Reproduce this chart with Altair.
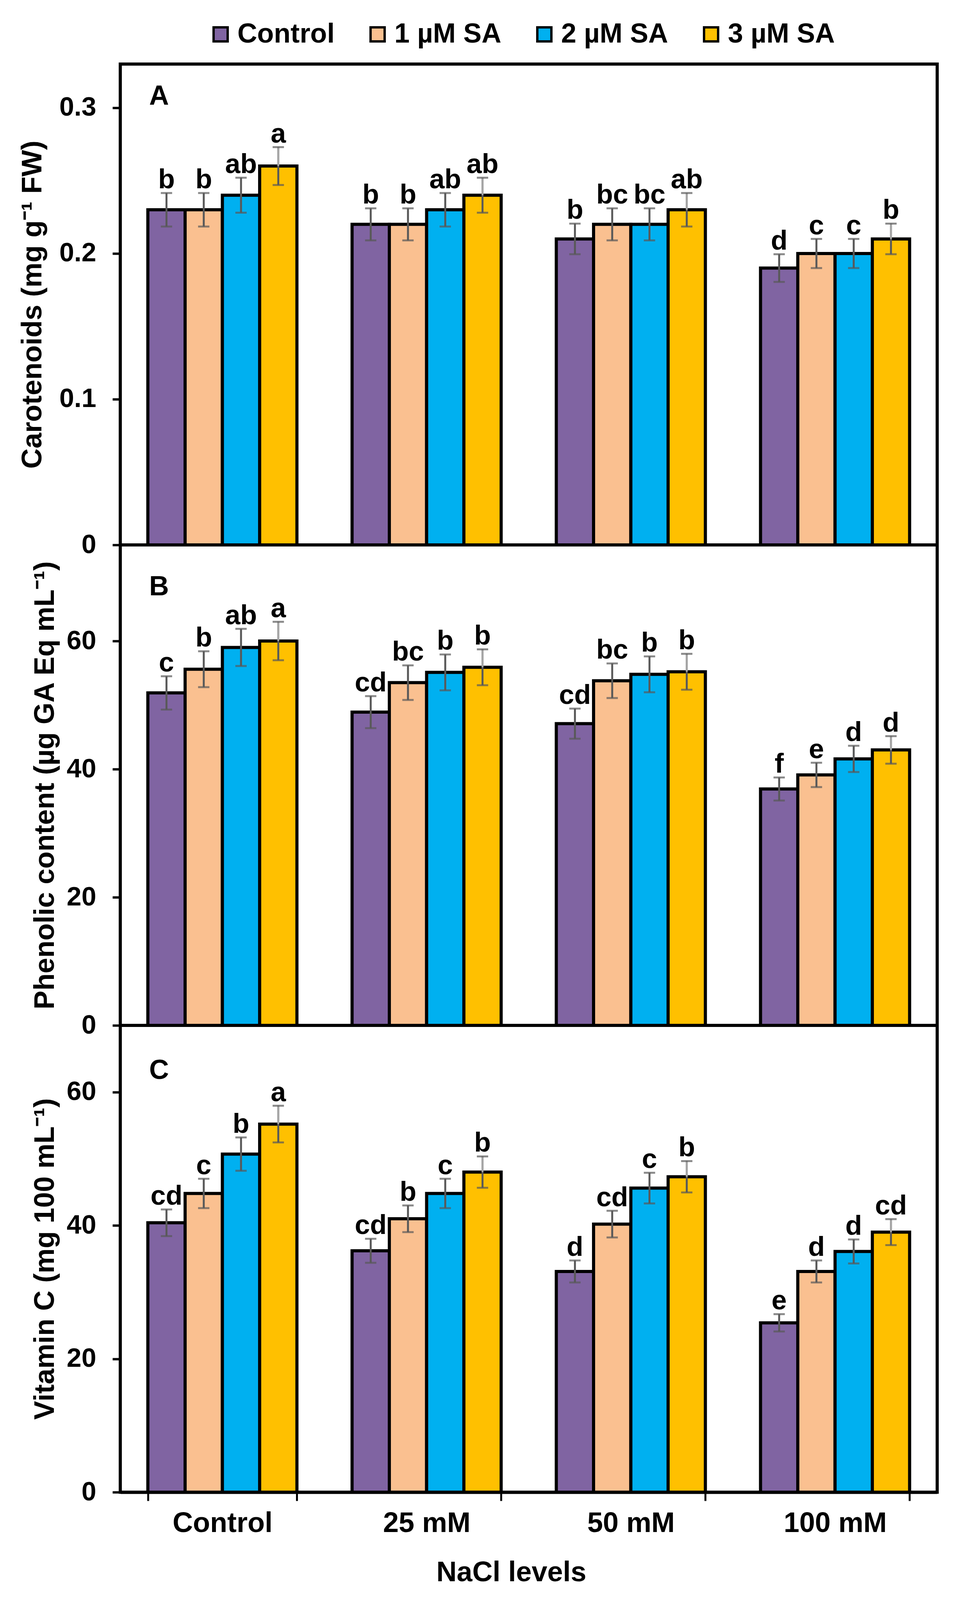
import altair as alt
import pandas as pd

nacl = ["Control", "25 mM", "50 mM", "100 mM"]
treat = ["Control", "1 µM SA", "2 µM SA", "3 µM SA"]
colors = ["#8064A2", "#FAC090", "#00B0F0", "#FFC000"]

# Panel A: carotenoids (rows = NaCl level, cols = SA treatment)
caro_val = [[0.23, 0.23, 0.24, 0.26],
            [0.22, 0.22, 0.23, 0.24],
            [0.21, 0.22, 0.22, 0.23],
            [0.19, 0.20, 0.20, 0.21]]
caro_err = [[0.0115, 0.0115, 0.012, 0.013],
            [0.011, 0.011, 0.0115, 0.012],
            [0.0105, 0.011, 0.011, 0.0115],
            [0.0095, 0.010, 0.010, 0.0105]]
caro_lab = [["b", "b", "ab", "a"],
            ["b", "b", "ab", "ab"],
            ["b", "bc", "bc", "ab"],
            ["d", "c", "c", "b"]]

# Panel B: phenolic content
phen_val = [[51.9, 55.6, 59.0, 60.0],
            [48.9, 53.5, 55.1, 55.9],
            [47.1, 53.8, 54.8, 55.2],
            [36.9, 39.1, 41.6, 43.0]]
phen_err = [[2.6, 2.8, 2.9, 3.0],
            [2.5, 2.7, 2.8, 2.8],
            [2.35, 2.7, 2.8, 2.8],
            [1.8, 1.9, 2.05, 2.15]]
phen_lab = [["c", "b", "ab", "a"],
            ["cd", "bc", "b", "b"],
            ["cd", "bc", "b", "b"],
            ["f", "e", "d", "d"]]

# Panel C: vitamin C
vitc_val = [[40.4, 44.8, 50.7, 55.2],
            [36.2, 41.0, 44.8, 48.0],
            [33.1, 40.2, 45.6, 47.3],
            [25.4, 33.1, 36.1, 39.0]]
vitc_err = [[2.0, 2.2, 2.5, 2.75],
            [1.8, 2.0, 2.2, 2.35],
            [1.65, 2.0, 2.3, 2.35],
            [1.3, 1.65, 1.8, 1.95]]
vitc_lab = [["cd", "c", "b", "a"],
            ["cd", "b", "c", "b"],
            ["d", "cd", "c", "b"],
            ["e", "d", "d", "cd"]]

FONT = "Liberation Sans"
W = 2092


def make_df(vals, errs, labs):
    rows = []
    for i, n in enumerate(nacl):
        for j, t in enumerate(treat):
            v, e = vals[i][j], errs[i][j]
            rows.append({"nacl": n, "treat": t, "val": v, "err": e,
                         "top": v + e, "low": v - e, "lab": labs[i][j]})
    return pd.DataFrame(rows)


legend = alt.Legend(orient="none", direction="horizontal", columns=4,
                    legendX=222, legendY=-111, title=None,
                    symbolType="square", symbolSize=1300,
                    symbolStrokeColor="black", symbolStrokeWidth=6,
                    symbolOpacity=1, labelFont=FONT, labelFontSize=70,
                    labelFontWeight="bold", labelColor="black",
                    columnPadding=75, labelOffset=8, padding=0,
                    labelLimit=600)


def panel(vals, errs, labs, title, domain, ticks, fmt, height, letter,
          letter_y, title_pad, show_x):
    df = make_df(vals, errs, labs)
    if show_x:
        xaxis = alt.Axis(title="NaCl levels", tickBand="extent", labelAngle=0,
                         domain=True, domainColor="black", domainWidth=8,
                         ticks=True, tickSize=22, tickWidth=5,
                         tickColor="black", labelPadding=22,
                         labelFontSize=72, titleFontSize=72, labelLimit=1000,
                         titlePadding=55, titleX=1001)
    else:
        xaxis = None
    base = alt.Chart(df).encode(
        x=alt.X("nacl:N", sort=nacl,
                scale=alt.Scale(paddingInner=0.27, paddingOuter=0.135),
                axis=xaxis),
        xOffset=alt.XOffset("treat:N", sort=treat,
                            scale=alt.Scale(paddingInner=0, paddingOuter=0)),
    )
    yscale = alt.Scale(domain=domain, nice=False, zero=True)
    bars = base.mark_bar(stroke="black", strokeWidth=8).encode(
        y=alt.Y("val:Q", scale=yscale,
                axis=alt.Axis(values=ticks, format=fmt, title=title,
                              domain=False, grid=False, tickSize=20,
                              tickWidth=6, tickColor="black",
                              labelPadding=42, labelFontSize=68,
                              titleFontSize=72, titlePadding=title_pad)),
        fill=alt.Fill("treat:N", sort=treat,
                      scale=alt.Scale(domain=treat, range=colors),
                      legend=legend),
    )
    rules = base.mark_rule(color="#595959", strokeWidth=5).encode(
        y="low:Q", y2="top:Q")
    # on the 3 µM SA bars the part of the whisker above the bar is lighter
    rules_hi = base.transform_filter(
        alt.datum.treat == treat[3]
    ).mark_rule(color="#A6A6A6", strokeWidth=5).encode(y="val:Q", y2="top:Q")
    cap_t = base.mark_tick(color="#595959", thickness=5, size=29,
                           orient="horizontal").encode(y="top:Q")
    cap_l = base.mark_tick(color="#595959", thickness=5, size=29,
                           orient="horizontal").encode(y="low:Q")
    texts = base.mark_text(font=FONT, fontSize=70, fontWeight="bold",
                           baseline="alphabetic", dy=-12,
                           color="black").encode(y="top:Q", text="lab:N")
    plab = alt.Chart(pd.DataFrame({"t": [letter]})).mark_text(
        font=FONT, fontSize=70, fontWeight="bold", align="left",
        baseline="alphabetic", color="black").encode(
        x=alt.value(74), y=alt.value(letter_y), text="t:N")
    return alt.layer(bars, rules, rules_hi, cap_t, cap_l, texts,
                     plab).properties(width=W, height=height)


pA = panel(caro_val, caro_err, caro_lab, "Carotenoids (mg g\u207b\u00b9 FW)",
           [0, 0.33], [0, 0.1, 0.2, 0.3], ".1~f", 1231, "A", 104, 31, False)
pB = panel(phen_val, phen_err, phen_lab,
           "Phenolic content (µg GA Eq mL\u207b\u00b9)",
           [0, 75], [0, 20, 40, 60], "d", 1230, "B", 129, 18, False)
pC = panel(vitc_val, vitc_err, vitc_lab, "Vitamin C (mg 100 mL\u207b\u00b9)",
           [0, 70], [0, 20, 40, 60], "d", 1195, "C", 137, 18, True)

chart = alt.vconcat(pA, pB, pC, spacing=0, bounds="flush").properties(
    padding={"left": 35, "top": 45, "right": 40, "bottom": 20}
).configure(font=FONT).configure_view(
    stroke="black", strokeWidth=8
).configure_axis(
    labelFont=FONT, titleFont=FONT, labelFontWeight="bold",
    titleFontWeight="bold", labelColor="black", titleColor="black"
)

chart.save("out.html", embed_options={"renderer": "svg", "actions": False})
